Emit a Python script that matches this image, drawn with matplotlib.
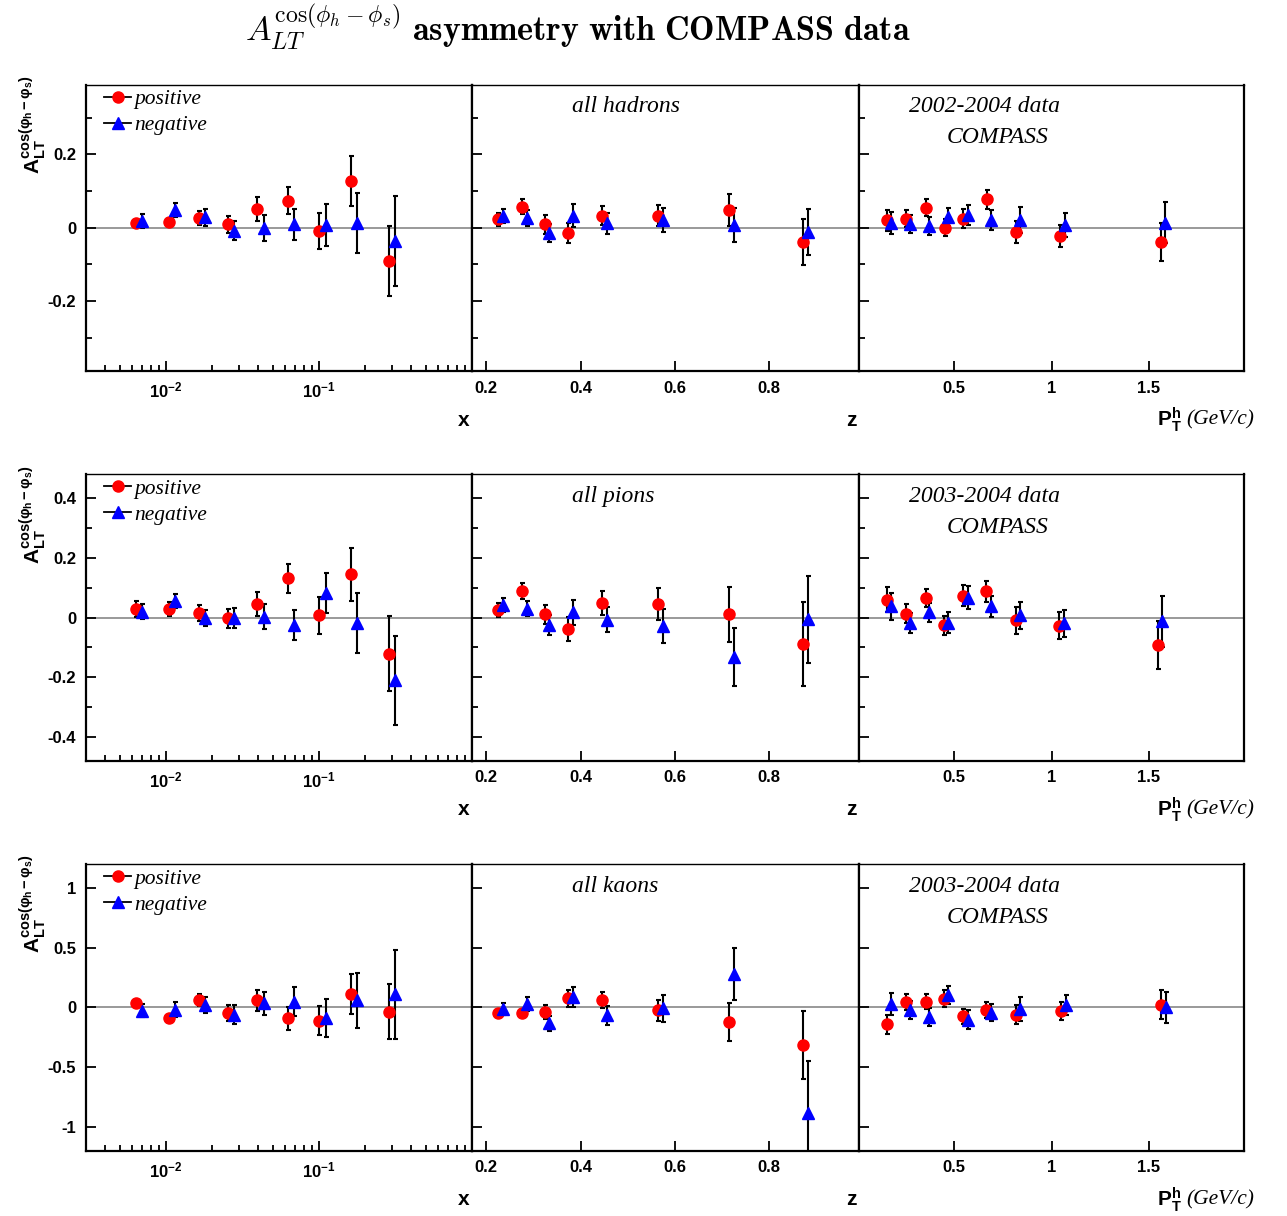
import numpy as np
import matplotlib
matplotlib.use("Agg")
import matplotlib.pyplot as plt
from matplotlib.lines import Line2D
from matplotlib.ticker import FixedLocator, NullFormatter

plt.rcParams['font.family'] = ['Liberation Sans', 'DejaVu Sans']
plt.rcParams['mathtext.fontset'] = 'custom'
plt.rcParams['mathtext.rm'] = 'Liberation Sans'
plt.rcParams['mathtext.bf'] = 'Liberation Sans:bold'
plt.rcParams['mathtext.it'] = 'Liberation Sans:italic'
plt.rcParams['mathtext.sf'] = 'Liberation Sans'

# ---------------- bin centres ----------------
x_pos = [0.0064, 0.0105, 0.0164, 0.0255, 0.0394, 0.0623, 0.100, 0.161, 0.285]
x_neg = [0.0070, 0.0115, 0.0180, 0.0280, 0.0436, 0.0689, 0.1107, 0.177, 0.315]
z_pos = [0.226, 0.2755, 0.325, 0.374, 0.446, 0.565, 0.715, 0.871]
z_neg = [0.235, 0.286, 0.334, 0.385, 0.4555, 0.575, 0.726, 0.881]

# ---------------- all hadrons (2002-2004) ----------------
had_x_pos = [0.012, 0.015, 0.026, 0.009, 0.051, 0.074, -0.008, 0.127, -0.090]
had_x_pos_err = [0.010, 0.010, 0.020, 0.023, 0.032, 0.038, 0.049, 0.069, 0.095]
had_x_neg = [0.018, 0.048, 0.028, -0.008, 0.000, 0.009, 0.008, 0.012, -0.037]
had_x_neg_err = [0.020, 0.020, 0.024, 0.026, 0.035, 0.043, 0.057, 0.082, 0.123]

had_z_pos = [0.023, 0.057, 0.009, -0.0145, 0.033, 0.033, 0.048, -0.038]
had_z_pos_err = [0.018, 0.020, 0.025, 0.028, 0.026, 0.029, 0.043, 0.063]
had_z_neg = [0.032, 0.026, -0.0136, 0.033, 0.012, 0.020, 0.008, -0.011]
had_z_neg_err = [0.018, 0.021, 0.025, 0.031, 0.028, 0.033, 0.047, 0.062]

had_pt_pos_bins = [0.156, 0.250, 0.353, 0.452, 0.546, 0.670, 0.815, 1.045, 1.565]
had_pt_pos = [0.020, 0.025, 0.055, 0.000, 0.025, 0.077, -0.013, -0.023, -0.039]
had_pt_pos_err = [0.029, 0.024, 0.024, 0.023, 0.026, 0.025, 0.030, 0.029, 0.051]
had_pt_neg_bins = [0.175, 0.272, 0.370, 0.469, 0.568, 0.690, 0.837, 1.068, 1.586]
had_pt_neg = [0.013, 0.010, 0.004, 0.029, 0.035, 0.021, 0.021, 0.007, 0.014]
had_pt_neg_err = [0.031, 0.025, 0.024, 0.025, 0.028, 0.026, 0.036, 0.033, 0.057]

# ---------------- all pions (2003-2004) ----------------
pi_x_pos = [0.028, 0.028, 0.016, -0.003, 0.045, 0.131, 0.008, 0.145, -0.122]
pi_x_pos_err = [0.027, 0.024, 0.027, 0.032, 0.041, 0.049, 0.062, 0.089, 0.126]
pi_x_neg = [0.019, 0.055, -0.002, -0.001, 0.003, -0.026, 0.082, -0.019, -0.211]
pi_x_neg_err = [0.025, 0.023, 0.028, 0.034, 0.042, 0.051, 0.068, 0.100, 0.150]

pi_z_pos = [0.025, 0.089, 0.011, -0.039, 0.048, 0.045, 0.011, -0.088]
pi_z_pos_err = [0.022, 0.026, 0.032, 0.040, 0.040, 0.054, 0.092, 0.141]
pi_z_neg = [0.042, 0.030, -0.026, 0.018, -0.007, -0.028, -0.133, -0.006]
pi_z_neg_err = [0.025, 0.026, 0.034, 0.042, 0.042, 0.058, 0.098, 0.146]

pi_pt_pos_bins = [0.156, 0.250, 0.353, 0.449, 0.545, 0.664, 0.815, 1.040, 1.547]
pi_pt_pos = [0.060, 0.013, 0.066, -0.026, 0.073, 0.088, -0.010, -0.028, -0.091]
pi_pt_pos_err = [0.041, 0.033, 0.031, 0.032, 0.035, 0.036, 0.044, 0.045, 0.080]
pi_pt_neg_bins = [0.175, 0.272, 0.370, 0.469, 0.568, 0.690, 0.837, 1.065, 1.566]
pi_pt_neg = [0.037, -0.018, 0.018, -0.017, 0.067, 0.037, 0.007, -0.020, -0.013]
pi_pt_neg_err = [0.044, 0.034, 0.032, 0.036, 0.037, 0.036, 0.045, 0.045, 0.085]

# ---------------- all kaons (2003-2004) ----------------
k_x_pos = [0.039, -0.084, 0.059, -0.045, 0.059, -0.092, -0.112, 0.112, -0.034]
k_x_pos_err = [0.020, 0.020, 0.050, 0.064, 0.085, 0.095, 0.122, 0.165, 0.233]
k_x_neg = [-0.028, -0.017, 0.017, -0.059, 0.036, 0.050, -0.087, 0.059, 0.109]
k_x_neg_err = [0.054, 0.059, 0.067, 0.078, 0.096, 0.120, 0.157, 0.228, 0.373]

k_z_pos = [-0.042, -0.050, -0.034, 0.078, 0.064, -0.025, -0.123, -0.318]
k_z_pos_err = [0.020, 0.020, 0.059, 0.070, 0.067, 0.088, 0.160, 0.285]
k_z_neg = [-0.014, 0.028, -0.134, 0.087, -0.067, -0.008, 0.282, -0.880]
k_z_neg_err = [0.050, 0.058, 0.066, 0.083, 0.078, 0.112, 0.220, 0.433]

k_pt_pos_bins = [0.156, 0.250, 0.353, 0.449, 0.546, 0.664, 0.818, 1.048, 1.565]
k_pt_pos = [-0.140, 0.045, 0.050, 0.073, -0.073, -0.020, -0.061, -0.031, 0.022]
k_pt_pos_err = [0.080, 0.067, 0.061, 0.070, 0.064, 0.070, 0.081, 0.075, 0.122]
k_pt_neg_bins = [0.175, 0.272, 0.370, 0.469, 0.568, 0.690, 0.839, 1.072, 1.591]
k_pt_neg = [0.028, -0.020, -0.081, 0.106, -0.103, -0.042, -0.014, 0.022, 0.000]
k_pt_neg_err = [0.090, 0.075, 0.077, 0.073, 0.080, 0.075, 0.100, 0.085, 0.130]

# ---------------- row settings ----------------
row_names = ["all hadrons", "all pions", "all kaons"]
row_years = ["2002-2004 data", "2003-2004 data", "2003-2004 data"]
row_ylim = [0.39, 0.48, 1.2]
row_major = [[-0.2, 0.0, 0.2], [-0.4, -0.2, 0.0, 0.2, 0.4], [-1.0, -0.5, 0.0, 0.5, 1.0]]
row_major_labels = [["-0.2", "0", "0.2"], ["-0.4", "-0.2", "0", "0.2", "0.4"],
                    ["-1", "-0.5", "0", "0.5", "1"]]
row_minor = [[-0.3, -0.1, 0.1, 0.3], [-0.3, -0.1, 0.1, 0.3], []]

rows = [
    [(x_pos, had_x_pos, had_x_pos_err, x_neg, had_x_neg, had_x_neg_err),
     (z_pos, had_z_pos, had_z_pos_err, z_neg, had_z_neg, had_z_neg_err),
     (had_pt_pos_bins, had_pt_pos, had_pt_pos_err, had_pt_neg_bins, had_pt_neg, had_pt_neg_err)],
    [(x_pos, pi_x_pos, pi_x_pos_err, x_neg, pi_x_neg, pi_x_neg_err),
     (z_pos, pi_z_pos, pi_z_pos_err, z_neg, pi_z_neg, pi_z_neg_err),
     (pi_pt_pos_bins, pi_pt_pos, pi_pt_pos_err, pi_pt_neg_bins, pi_pt_neg, pi_pt_neg_err)],
    [(x_pos, k_x_pos, k_x_pos_err, x_neg, k_x_neg, k_x_neg_err),
     (z_pos, k_z_pos, k_z_pos_err, z_neg, k_z_neg, k_z_neg_err),
     (k_pt_pos_bins, k_pt_pos, k_pt_pos_err, k_pt_neg_bins, k_pt_neg, k_pt_neg_err)],
]

W, H = 1287, 1216
fig = plt.figure(figsize=(W / 100, H / 100), dpi=100)

col_left = [86, 472, 859]
col_width = [386, 387, 385]
row_top = [84.5, 474.3, 864.3]
panel_h = 286.4
row_step = 389.8

tick_font = dict(family='Liberation Sans', weight='bold', size=12)
serif_it = dict(family=['Liberation Serif', 'DejaVu Serif'], style='italic')

for r in range(3):
    for c in range(3):
        ax = fig.add_axes([col_left[c] / W, 1 - (row_top[r] + panel_h) / H,
                           col_width[c] / W, panel_h / H])
        xp, yp, ep, xn, yn, en = rows[r][c]
        ax.axhline(0.0, color='#888888', lw=1.2, zorder=1)
        ax.errorbar(xp, yp, yerr=ep, fmt='none', ecolor='black', elinewidth=1.5,
                    capsize=1.8, capthick=1.5, zorder=2)
        ax.errorbar(xn, yn, yerr=en, fmt='none', ecolor='black', elinewidth=1.5,
                    capsize=1.8, capthick=1.5, zorder=2)
        ax.plot(xp, yp, 'o', color='#ff0000', ms=8, mec='#ff0000', zorder=3)
        ax.plot(xn, yn, '^', color='#0000ff', ms=8, mec='#0000ff', zorder=3)

        ax.set_ylim(-row_ylim[r], row_ylim[r])
        ax.yaxis.set_major_locator(FixedLocator(row_major[r]))
        ax.yaxis.set_minor_locator(FixedLocator(row_minor[r]))
        if c == 0:
            ax.set_yticklabels(row_major_labels[r], fontdict=tick_font)
        else:
            ax.set_yticklabels([])

        if c == 0:
            ax.set_xscale('log')
            ax.set_xlim(0.003, 1.0)
            ax.xaxis.set_major_locator(FixedLocator([0.01, 0.1]))
            minors = [k * 10.0 ** d for d in (-3, -2, -1) for k in range(2, 10)]
            minors = [m for m in minors if 0.003 < m < 1.0]
            ax.xaxis.set_minor_locator(FixedLocator(minors))
            ax.xaxis.set_minor_formatter(NullFormatter())
            ax.set_xticklabels([r'$\mathdefault{10^{-2}}$', r'$\mathdefault{10^{-1}}$'],
                               fontdict=tick_font)
        elif c == 1:
            ax.set_xlim(0.17, 0.99)
            ax.xaxis.set_major_locator(FixedLocator([0.2, 0.4, 0.6, 0.8]))
            ax.set_xticklabels(["0.2", "0.4", "0.6", "0.8"], fontdict=tick_font)
        else:
            ax.set_xlim(0.01, 1.99)
            ax.xaxis.set_major_locator(FixedLocator([0.5, 1.0, 1.5]))
            ax.set_xticklabels(["0.5", "1", "1.5"], fontdict=tick_font)

        ax.tick_params(which='both', direction='in', top=False, right=False,
                       width=1.3, pad=7)
        ax.tick_params(which='major', length=7.5)
        ax.tick_params(which='minor', length=4)
        for side, sp in ax.spines.items():
            sp.set_linewidth(1.0 if side == 'top' else 1.6)
            sp.set_color('black')

        if c == 0:
            handles = [
                Line2D([], [], color='black', lw=1.3, marker='o', ms=8,
                       mfc='#ff0000', mec='#ff0000'),
                Line2D([], [], color='black', lw=1.3, marker='^', ms=8,
                       mfc='#0000ff', mec='#0000ff'),
            ]
            ax.legend(handles, ['positive', 'negative'], loc='upper left',
                      bbox_to_anchor=(0.045, 0.988), frameon=False,
                      prop=dict(family='Liberation Serif', style='italic', size=15.5),
                      handlelength=1.25, handletextpad=0.15, borderpad=0.05,
                      labelspacing=0.28, borderaxespad=0.0)
        elif c == 1:
            ax.text((571.7 - col_left[1]) / col_width[1], 1 - (106.7 - 84.5) / panel_h,
                    row_names[r], transform=ax.transAxes, ha='left', va='center',
                    fontsize=17, **serif_it)
        else:
            ax.text((909 - col_left[2]) / col_width[2], 1 - (106.7 - 84.5) / panel_h,
                    row_years[r], transform=ax.transAxes, ha='left', va='center',
                    fontsize=17, **serif_it)
            ax.text((947 - col_left[2]) / col_width[2], 1 - (137.3 - 84.5) / panel_h,
                    "COMPASS", transform=ax.transAxes, ha='left', va='center',
                    fontsize=17, **serif_it)

    # axis titles
    yoff = r * row_step
    fig.text(469 / W, 1 - (420 + yoff) / H, "x", ha='right', va='center',
             fontsize=15, fontweight='bold')
    fig.text(857 / W, 1 - (420 + yoff) / H, "z", ha='right', va='center',
             fontsize=15, fontweight='bold')
    fig.text(1157 / W, 1 - (420 + yoff) / H, r'$\mathbf{P_{T}^{h}}$', ha='left',
             va='center', fontsize=15, fontweight='bold')
    fig.text(1186 / W, 1 - (420 + yoff) / H, "(GeV/c)", ha='left', va='center',
             fontsize=15.5, **serif_it)
    fig.text(33 / W, 1 - (75 + yoff) / H,
             r'$\mathbf{A_{LT}^{cos(\varphi_{h}-\varphi_{s})}}$', rotation=90,
             ha='center', va='top', fontsize=15, fontweight='bold')

fig.text(578 / W, 1 - 27 / H,
         r'$A_{LT}^{\cos(\phi_h-\phi_s)}$ $\mathbf{asymmetry\ with\ COMPASS\ data}$',
         ha='center', va='center', fontsize=24.5, math_fontfamily='cm')

fig.savefig("out.png", dpi=100)
